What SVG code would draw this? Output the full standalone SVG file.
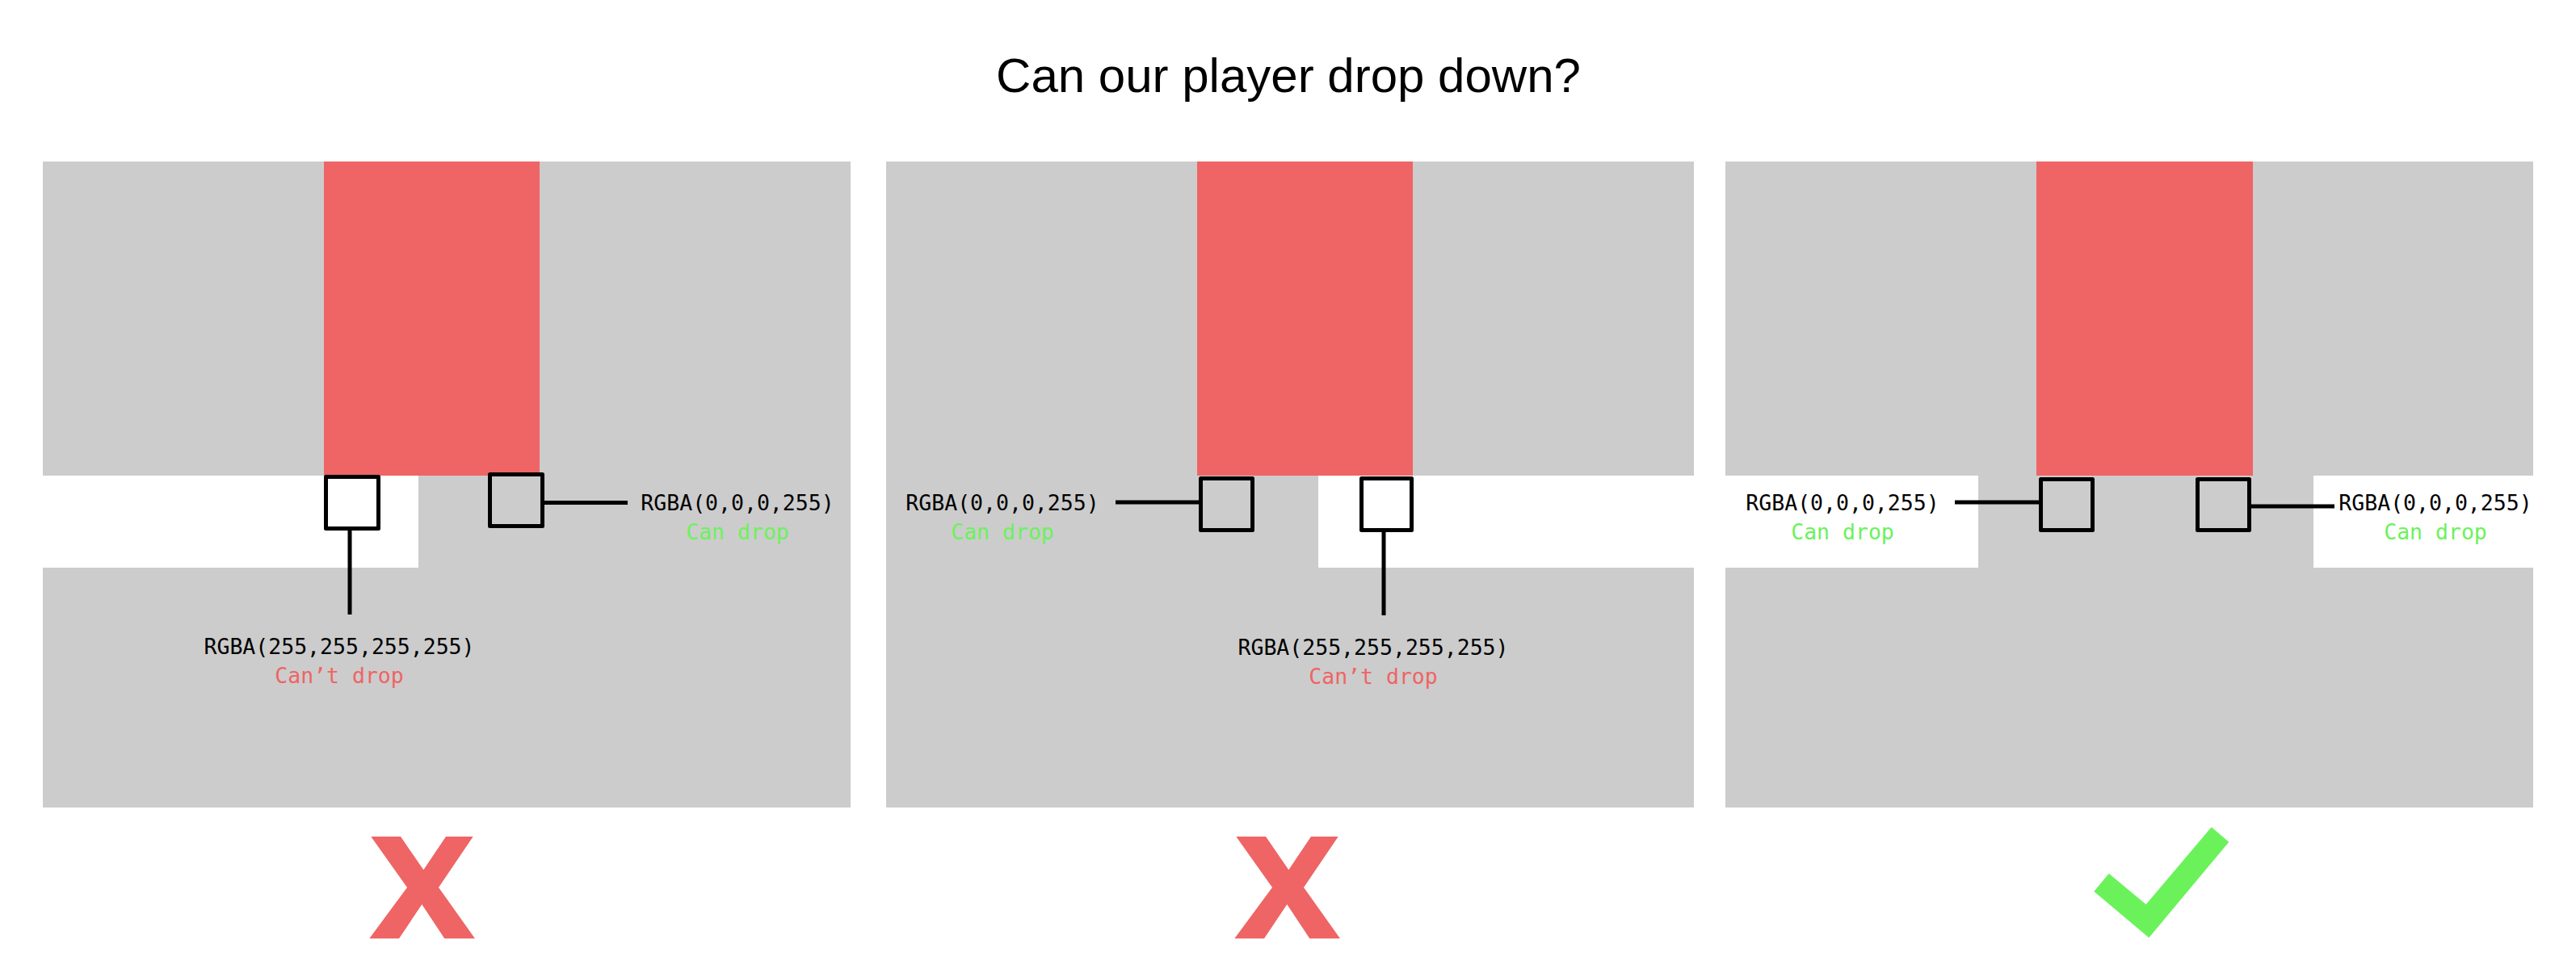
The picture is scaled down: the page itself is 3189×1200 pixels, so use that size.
<svg xmlns="http://www.w3.org/2000/svg" width="3189" height="1200" viewBox="0 0 3189 1200">
<style>
.bg{fill:#cccccc}
.gap{fill:#ffffff}
.pl{fill:#ef6464}
.sq{stroke:#000;stroke-width:5;stroke-linejoin:round}
.sqw{fill:#ffffff}
.sqg{fill:#cccccc}
.ln{stroke:#000;stroke-width:5;fill:none}
.mono{font-family:"DejaVu Sans Mono","Liberation Mono",monospace;font-size:26.5px;text-anchor:middle}
.k{fill:#000}
.ok{fill:#6bf25b}
.no{fill:#ef6464}
.title{font-family:"Liberation Sans",Arial,sans-serif;font-size:60px;text-anchor:middle;fill:#000}
</style>
<rect width="3189" height="1200" fill="#ffffff"/>
<text class="title" x="1595" y="114">Can our player drop down?</text>

<g id="panel1">
<rect class="bg" x="53" y="200" width="1000" height="800"/>
<rect class="gap" x="53" y="589" width="465" height="114"/>
<rect class="pl" x="401" y="200" width="267" height="389"/>
</g>
<g id="panel2">
<rect class="bg" x="1097" y="200" width="1000" height="800"/>
<rect class="gap" x="1632" y="589" width="465" height="114"/>
<rect class="pl" x="1482" y="200" width="267" height="389"/>
</g>
<g id="panel3">
<rect class="bg" x="2136" y="200" width="1000" height="800"/>
<rect class="gap" x="2136" y="589" width="313" height="114"/>
<rect class="gap" x="2864" y="589" width="272" height="114"/>
<rect class="pl" x="2521" y="200" width="268" height="389"/>
</g>

<g id="connectors">
<line class="ln" x1="433" y1="657" x2="433" y2="761"/>
<line class="ln" x1="674" y1="622.5" x2="777" y2="622.5"/>
<line class="ln" x1="1381" y1="622" x2="1486" y2="622"/>
<line class="ln" x1="1713" y1="659" x2="1713" y2="762"/>
<line class="ln" x1="2420" y1="622" x2="2524" y2="622"/>
<line class="ln" x1="2786" y1="627" x2="2890" y2="627"/>
</g>

<g id="p1-white-sample"><rect class="sq sqw" x="403.5" y="590.5" width="65" height="64"/></g>
<g id="p1-gray-sample"><rect class="sq sqg" x="606.5" y="587.5" width="65" height="64"/></g>
<g id="p2-gray-sample"><rect class="sq sqg" x="1486.5" y="592.5" width="64" height="64"/></g>
<g id="p2-white-sample"><rect class="sq sqw" x="1685.5" y="592.5" width="62" height="64"/></g>
<g id="p3-left-sample"><rect class="sq sqg" x="2526.5" y="593.5" width="64" height="63"/></g>
<g id="p3-right-sample"><rect class="sq sqg" x="2720.5" y="593.5" width="64" height="63"/></g>

<g id="label-p1-right">
<text class="mono k" x="913" y="632">RGBA(0,0,0,255)</text>
<text class="mono ok" x="913" y="668">Can drop</text>
</g>
<g id="label-p1-bottom">
<text class="mono k" x="420" y="810">RGBA(255,255,255,255)</text>
<text class="mono no" x="420" y="846">Can’t drop</text>
</g>
<g id="label-p2-left">
<text class="mono k" x="1241" y="632">RGBA(0,0,0,255)</text>
<text class="mono ok" x="1241" y="668">Can drop</text>
</g>
<g id="label-p2-bottom">
<text class="mono k" x="1700" y="811">RGBA(255,255,255,255)</text>
<text class="mono no" x="1700" y="847">Can’t drop</text>
</g>
<g id="label-p3-left">
<text class="mono k" x="2281" y="632">RGBA(0,0,0,255)</text>
<text class="mono ok" x="2281" y="668">Can drop</text>
</g>
<g id="label-p3-right">
<text class="mono k" x="3015" y="632">RGBA(0,0,0,255)</text>
<text class="mono ok" x="3015" y="668">Can drop</text>
</g>

<defs>
<polygon id="cross" points="459.3,1036 496,1036 524.3,1077.3 552,1036 585.7,1036 543,1099 588,1162.3 550.3,1162.3 522.3,1120 494,1162.3 457.3,1162.3 504,1099"/>
</defs>
<g id="mark1"><use href="#cross" fill="#ef6464"/></g>
<g id="mark2"><use href="#cross" fill="#ef6464" transform="translate(1071,0)"/></g>
<g id="mark3"><polygon fill="#6bf25b" points="2592.3,1104 2610.7,1081.7 2656.7,1120 2737.7,1024.3 2759.3,1042.7 2660.3,1161.3"/></g>
</svg>
